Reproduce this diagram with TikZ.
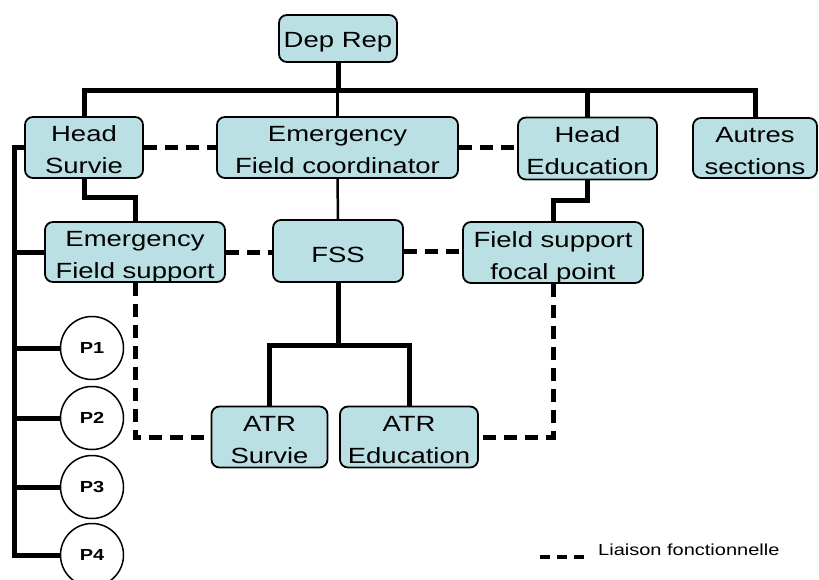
\documentclass[tikz,border=0pt]{standalone}
\usepackage{fontspec}
\setmainfont{Liberation Sans}[FakeStretch=1.25]
\definecolor{boxfill}{RGB}{187,224,228}

\begin{document}
\begin{tikzpicture}[x=1pt,y=-1pt,
  box/.style={draw=black, line width=1.8pt, fill=boxfill, rounded corners=8pt,
    inner sep=0pt, align=center, font=\fontsize{22}{32}\selectfont,
    text height=53pt, text depth=0pt},
  cerchio/.style={draw=black, line width=1.5pt, fill=white, circle,
    minimum size=63pt, inner sep=0pt, font=\bfseries\fontsize{16}{19}\selectfont},
  bar/.style={line width=5pt},
  sottile/.style={line width=2.5pt},
  liaison/.style={line width=5pt, dash pattern=on 13pt off 8pt}]

\useasboundingbox (0,0) rectangle (819,580);

% Caselle
\node[box, minimum width=118pt, minimum height=47pt, text height=19pt] (deprep) at (338,38.5) {Dep Rep};
\node[box, minimum width=118pt, minimum height=61pt] (headsurv) at (84,147.5) {Head\\Survie};
\node[box, minimum width=241pt, minimum height=61pt] (efc) at (337.5,147.5) {Emergency\\Field coordinator};
\node[box, minimum width=139pt, minimum height=62pt] (headedu) at (587.5,148.5) {Head\\Education};
\node[box, minimum width=124pt, minimum height=60pt] (autres) at (755,148) {Autres\\sections};
\node[box, minimum width=180pt, minimum height=60pt] (efs) at (135,252) {Emergency\\Field support};
\node[box, minimum width=130pt, minimum height=62pt, text height=22pt] (fss) at (338,251) {FSS};
\node[box, minimum width=180pt, minimum height=61pt] (fsfp) at (553,252.5) {Field support\\focal point};
\node[box, minimum width=116pt, minimum height=61pt] (atrsurv) at (269.5,437) {ATR\\Survie};
\node[box, minimum width=138pt, minimum height=61pt] (atredu) at (409,437) {ATR\\Education};

% Cerchi P1...P4
\foreach \n/\y in {1/348,2/418,3/487,4/555} {
    \node[cerchio] (p\n) at (92,\y) {P\n};
}

% Linee gerarchiche
\draw[bar] (deprep.south) -- ++(0,27.5) coordinate (bus);
\draw[bar] (headsurv.north) |- (bus) -| (autres.north);
\draw[bar] (headedu.north) -- (headedu.north |- bus);
\draw[sottile] (efc.north) -- (efc.north |- bus);
\draw[bar] (headsurv.south) -- ++(0,19) -| (efs.north);
\draw[bar] (headedu.south) -- ++(0,20) -| (fsfp.north);
\draw[sottile] (efc.south) -- (fss.north);
\draw[bar] (fss.south) -- ++(0,63) coordinate (atrbus);
\draw[bar] (atrsurv.north) |- (atrbus) -| (atredu.north);

% Linea verticale a sinistra
\draw[bar] (headsurv.west) -- ++(-10,0) coordinate (spina) -- (spina |- p4.west) -- (p4.west);
\foreach \nodo in {efs,p1,p2,p3} {
    \draw[bar] (spina |- \nodo.west) -- (\nodo.west);
}

% Liaisons fonctionnelles
\draw[liaison] (headsurv.east) -- (efc.west);
\draw[liaison] (efc.east) -- (efc.east -| headedu.west);
\draw[liaison] (efs.east) -- (efs.east -| fss.west);
\draw[liaison] (fss.east) -- (fss.east -| fsfp.west);
\draw[liaison] (efs.south) |- (atrsurv.west);
\draw[liaison] (fsfp.south) |- (atredu.east);

% Legenda
\coordinate (lega) at (540,557);
\coordinate (legb) at (584,557);
\draw[line width=4pt, dash pattern=on 10pt off 7pt] (lega) -- (legb);
\node[anchor=base west, inner sep=0pt, font=\fontsize{16}{19}\selectfont] (legenda) at (598,555) {Liaison fonctionnelle};

\end{tikzpicture}
\end{document}
